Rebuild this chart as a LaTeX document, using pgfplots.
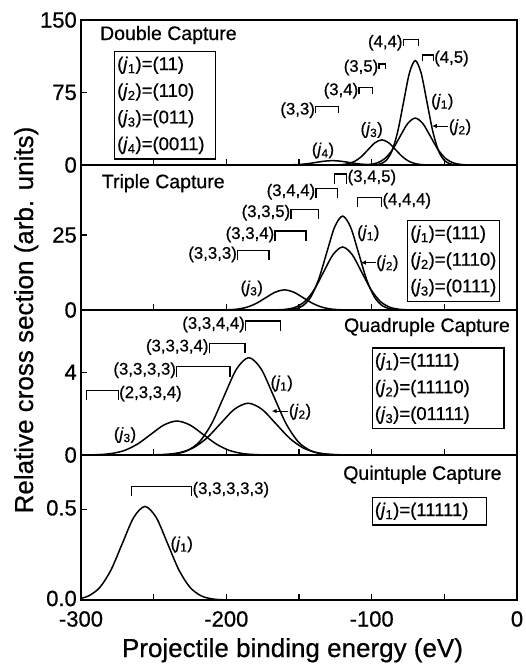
\documentclass[border=0pt]{standalone}
\usepackage{fontspec}
\setmainfont{Liberation Sans}[FakeBold=0.6]
\usepackage{pgfplots}
\pgfplotsset{compat=1.18}
\usetikzlibrary{arrows.meta}

% state label, e.g. (j_1)
\newcommand{\jj}[1]{(\textit{j}\textsubscript{#1})}

\pgfplotsset{
  panel/.style={
    scale only axis, width=436pt, height=145pt, anchor=south west,
    xmin=-300, xmax=0, ymin=0,
    xtick={-300,-250,...,0}, xticklabels={},
    xtick pos=bottom, ytick pos=left, tick align=inside,
    major tick length=6pt,
    tick style={black, line width=1.2pt},
    axis line style={line width=1.6pt},
    ticklabel style={font=\fontsize{22}{22}\selectfont, inner sep=0pt},
    yticklabel style={xshift=-4pt},
    xticklabel style={yshift=-11pt},
  },
  curve/.style={black, line width=1.5pt, smooth, no markers},
  bracket/.style={black, line width=1.2pt, sharp plot, no markers},
}
\tikzset{
  lvl/.style={font=\fontsize{16.8}{16.8}\selectfont, inner sep=0.6pt},
  clab/.style={font=\fontsize{16.8}{16.8}\selectfont, inner sep=0pt},
  ttl/.style={font=\fontsize{19.5}{19.5}\selectfont, inner sep=0pt},
  box/.style={draw, line width=1.3pt, anchor=north west, align=left,
    font=\fontsize{18.5}{26.7}\selectfont, inner xsep=2.5pt, inner ysep=5pt},
  arr/.style={-{Latex[length=5pt,width=4.5pt]}, line width=1pt},
}

\begin{document}
\begin{tikzpicture}[x=1pt,y=1pt]
\useasboundingbox (0,0) rectangle (525,666);

% ---------------- Double capture ----------------
\begin{axis}[panel, at={(81pt,501pt)}, ymax=150,
  ytick={0,75,150}, yticklabels={0,75,150}]
\addplot[curve] coordinates {(-102,0.04) (-98,0.24) (-94,1.20) (-90,4.74) (-86,14.61) (-82,35.07) (-78,65.50) (-74,95.31) (-70,108) (-66,95.31) (-62,65.50) (-58,35.07) (-54,14.61) (-50,4.74) (-46,1.20) (-42,0.24) (-38,0.04)};
\addplot[curve] coordinates {(-112,0.02) (-106.75,0.11) (-101.5,0.54) (-96.25,2.13) (-91,6.56) (-85.75,15.75) (-80.5,29.42) (-75.25,42.80) (-70,48.5) (-64.75,42.80) (-59.5,29.42) (-54.25,15.75) (-49,6.56) (-43.75,2.13) (-38.5,0.54) (-33.25,0.11) (-28,0.02)};
\addplot[curve] coordinates {(-131,0.01) (-126.25,0.06) (-121.5,0.29) (-116.75,1.14) (-112,3.52) (-107.25,8.44) (-102.5,15.77) (-97.75,22.95) (-93,26) (-88.25,22.95) (-83.5,15.77) (-78.75,8.44) (-74,3.52) (-69.25,1.14) (-64.5,0.29) (-59.75,0.06) (-55,0.01)};
\addplot[curve] coordinates {(-171,0.00) (-165.5,0.01) (-160,0.05) (-154.5,0.20) (-149,0.61) (-143.5,1.46) (-138,2.73) (-132.5,3.97) (-127,4.5) (-121.5,3.97) (-116,2.73) (-110.5,1.46) (-105,0.61) (-99.5,0.20) (-94,0.05) (-88.5,0.01) (-83,0.00)};
% level brackets
\addplot[bracket] coordinates {(-138.5,53.6) (-138.5,60.3) (-122.9,60.3) (-122.9,53.6)};
\addplot[bracket] coordinates {(-108.7,73.7) (-108.7,80.4) (-99.3,80.4) (-99.3,73.7)};
\addplot[bracket] coordinates {(-94.9,99.3) (-94.9,104.5) (-90.3,104.5) (-90.3,99.3)};
\addplot[bracket] coordinates {(-78.2,123.3) (-78.2,130) (-67.9,130) (-67.9,123.3)};
\addplot[bracket] coordinates {(-64.8,107.1) (-64.8,113.8) (-57.5,113.8) (-57.5,107.1)};
\node[lvl, anchor=east, yshift=-3.5pt] at (axis cs:-138.5,60.3) {(3,3)};
\node[lvl, anchor=east, yshift=-3.5pt] at (axis cs:-108.7,80.4) {(3,4)};
\node[lvl, anchor=east, yshift=-3.5pt] at (axis cs:-94.9,104.5) {(3,5)};
\node[lvl, anchor=east, yshift=-3.5pt] at (axis cs:-78.2,130) {(4,4)};
\node[lvl, anchor=west, yshift=-3.5pt] at (axis cs:-57.5,113.8) {(4,5)};
% curve labels
\node[clab] at (axis cs:-51.4,65.5) {\jj1};
\node[clab] at (axis cs:-39.2,39) {\jj2};
\draw[arr] (axis cs:-47.4,40.3) -- (axis cs:-58.6,40.3);
\node[clab] at (axis cs:-100,36.2) {\jj3};
\node[clab] at (axis cs:-133.5,15) {\jj4};
\node[ttl, anchor=base west] at (axis cs:-287,129.3) {Double Capture};
\node[box] at (axis cs:-277.3,117.9) {\makebox[96pt][l]{\jj1=(11)}\\\makebox[96pt][l]{\jj2=(110)}\\\makebox[96pt][l]{\jj3=(011)}\\\makebox[96pt][l]{\jj4=(0011)}};
\end{axis}

% ---------------- Triple capture ----------------
\begin{axis}[panel, at={(81pt,356pt)}, ymax=48.33,
  ytick={0,25}, yticklabels={0,25}]
\addplot[curve] coordinates {(-164,0.01) (-158.5,0.07) (-153,0.35) (-147.5,1.37) (-142,4.24) (-136.5,10.16) (-131,18.98) (-125.5,27.62) (-120,31.3) (-114.5,27.62) (-109,18.98) (-103.5,10.16) (-98,4.24) (-92.5,1.37) (-87,0.35) (-81.5,0.07) (-76,0.01)};
\addplot[curve] coordinates {(-172,0.01) (-165.5,0.05) (-159,0.23) (-152.5,0.92) (-146,2.84) (-139.5,6.82) (-133,12.74) (-126.5,18.53) (-120,21) (-113.5,18.53) (-107,12.74) (-100.5,6.82) (-94,2.84) (-87.5,0.92) (-81,0.23) (-74.5,0.05) (-68,0.01)};
\addplot[curve] coordinates {(-212,0.00) (-205.5,0.01) (-199,0.07) (-192.5,0.29) (-186,0.91) (-179.5,2.18) (-173,4.06) (-166.5,5.91) (-160,6.7) (-153.5,5.91) (-147,4.06) (-140.5,2.18) (-134,0.91) (-127.5,0.29) (-121,0.07) (-114.5,0.01) (-108,0.00)};
\addplot[bracket] coordinates {(-192.2,16.5) (-192.2,19.7) (-170.6,19.7) (-170.6,16.5)};
\addplot[bracket] coordinates {(-166.5,23.1) (-166.5,26.3) (-145.2,26.3) (-145.2,23.1)};
\addplot[bracket] coordinates {(-155.5,30.4) (-155.5,33.6) (-136.7,33.6) (-136.7,30.4)};
\addplot[bracket] coordinates {(-138.3,37.4) (-138.3,40.6) (-123.3,40.6) (-123.3,37.4)};
\addplot[bracket] coordinates {(-125.7,42.1) (-125.7,45.3) (-117.1,45.3) (-117.1,42.1)};
\addplot[bracket] coordinates {(-109.6,34.4) (-109.6,37.6) (-93.1,37.6) (-93.1,34.4)};
\node[lvl, anchor=east, yshift=-3.5pt] at (axis cs:-192.2,19.7) {(3,3,3)};
\node[lvl, anchor=east, yshift=-3.5pt] at (axis cs:-166.5,26.3) {(3,3,4)};
\node[lvl, anchor=east, yshift=-3.5pt] at (axis cs:-155.5,33.6) {(3,3,5)};
\node[lvl, anchor=east, yshift=-3.5pt] at (axis cs:-138.3,40.6) {(3,4,4)};
\node[lvl, anchor=west, yshift=-3.5pt] at (axis cs:-117.1,45.3) {(3,4,5)};
\node[lvl, anchor=west, yshift=-3.5pt] at (axis cs:-93.1,37.6) {(4,4,4)};
\node[clab] at (axis cs:-102.3,25.6) {\jj1};
\node[clab] at (axis cs:-89.2,15.6) {\jj2};
\draw[arr] (axis cs:-97,15.8) -- (axis cs:-107.5,15.8);
\node[clab] at (axis cs:-182.5,7.2) {\jj3};
\node[ttl, anchor=base west] at (axis cs:-285.8,40.6) {Triple Capture};
\node[box] at (axis cs:-75.6,30) {\makebox[86.7pt][l]{\jj1=(111)}\\\makebox[86.7pt][l]{\jj2=(1110)}\\\makebox[86.7pt][l]{\jj3=(0111)}};
\end{axis}

% ---------------- Quadruple capture ----------------
\begin{axis}[panel, at={(81pt,211pt)}, ymax=7.0,
  ytick={0,4}, yticklabels={0,4}]
\addplot[curve] coordinates {(-252.5,0.002) (-244,0.010) (-235.5,0.052) (-227,0.206) (-218.5,0.636) (-210,1.526) (-201.5,2.851) (-193,4.148) (-184.5,4.7) (-176,4.148) (-167.5,2.851) (-159,1.526) (-150.5,0.636) (-142,0.206) (-133.5,0.052) (-125,0.010) (-116.5,0.002)};
\addplot[curve] coordinates {(-261,0.001) (-251.5,0.006) (-242,0.028) (-232.5,0.110) (-223,0.338) (-213.5,0.812) (-204,1.516) (-194.5,2.206) (-185,2.5) (-175.5,2.206) (-166,1.516) (-156.5,0.812) (-147,0.338) (-137.5,0.110) (-128,0.028) (-118.5,0.006) (-109,0.001)};
\addplot[curve] coordinates {(-306,0.001) (-297,0.004) (-288,0.018) (-279,0.072) (-270,0.222) (-261,0.533) (-252,0.995) (-243,1.447) (-234,1.64) (-225,1.447) (-216,0.995) (-207,0.533) (-198,0.222) (-189,0.072) (-180,0.018) (-171,0.004) (-162,0.001)};
\addplot[bracket] coordinates {(-186.7,5.99) (-186.7,6.47) (-163,6.47) (-163,5.99)};
\addplot[bracket] coordinates {(-211.7,4.90) (-211.7,5.38) (-187.1,5.38) (-187.1,4.90)};
\addplot[bracket] coordinates {(-234.1,3.78) (-234.1,4.26) (-197.5,4.26) (-197.5,3.78)};
\addplot[bracket] coordinates {(-296.1,2.65) (-296.1,3.13) (-274.3,3.13) (-274.3,2.65)};
\node[lvl, anchor=east, yshift=-3.5pt] at (axis cs:-186.7,6.47) {(3,3,4,4)};
\node[lvl, anchor=east, yshift=-3.5pt] at (axis cs:-211.7,5.38) {(3,3,3,4)};
\node[lvl, anchor=east, yshift=-3.5pt] at (axis cs:-234.1,4.26) {(3,3,3,3)};
\node[lvl, anchor=west, yshift=-3.5pt] at (axis cs:-274.3,3.13) {(2,3,3,4)};
\node[clab] at (axis cs:-161.9,3.45) {\jj1};
\node[clab] at (axis cs:-149.3,2.09) {\jj2};
\draw[arr] (axis cs:-157.3,2.12) -- (axis cs:-168.8,2.12);
\node[clab] at (axis cs:-269.7,0.96) {\jj3};
\node[ttl, anchor=base east] at (axis cs:-4.75,5.94) {Quadruple Capture};
\node[box] at (axis cs:-100,5.19) {\makebox[126.7pt][l]{\jj1=(1111)}\\\makebox[126.7pt][l]{\jj2=(11110)}\\\makebox[126.7pt][l]{\jj3=(01111)}};
\end{axis}

% ---------------- Quintuple capture ----------------
\begin{axis}[panel, at={(81pt,66pt)}, ymax=0.8,
  ytick={0,0.5}, yticklabels={0.0,0.5},
  yticklabel style={yshift=1.5pt},
  xticklabels={-300,,-200,,-100,,0}]
\addplot[curve] coordinates {(-318,0.0002) (-310.25,0.0011) (-302.5,0.0057) (-294.75,0.0227) (-287,0.0698) (-279.25,0.1675) (-271.5,0.3130) (-263.75,0.4554) (-256,0.516) (-248.25,0.4554) (-240.5,0.3130) (-232.75,0.1675) (-225,0.0698) (-217.25,0.0227) (-209.5,0.0057) (-201.75,0.0011) (-194,0.0002)};
\addplot[bracket] coordinates {(-265.1,0.573) (-265.1,0.628) (-223.8,0.628) (-223.8,0.573)};
\node[lvl, anchor=west, yshift=-3.5pt] at (axis cs:-223.8,0.628) {(3,3,3,3,3)};
\node[clab] at (axis cs:-230.7,0.306) {\jj1};
\node[ttl, anchor=base east] at (axis cs:-10.5,0.663) {Quintuple Capture};
\node[box] at (axis cs:-100,0.568) {\makebox[109.3pt][l]{\jj1=(11111)}};
\end{axis}

% axis titles
\node[font=\fontsize{26}{26}\selectfont, anchor=base] at (292.5,9) {Projectile binding energy (eV)};
\node[font=\fontsize{26}{26}\selectfont, anchor=base, rotate=90] at (33,346) {Relative cross section (arb. units)};
\end{tikzpicture}
\end{document}
